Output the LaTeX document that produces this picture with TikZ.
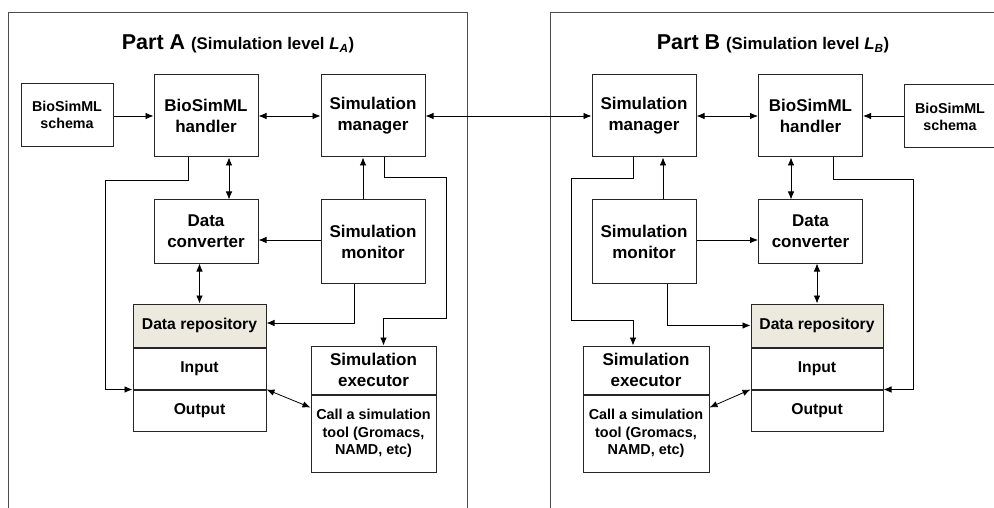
\documentclass[tikz,border=0pt]{standalone}
\usepackage{fontspec}
\setmainfont{Liberation Sans}
\usetikzlibrary{arrows.meta,positioning}
\definecolor{repofill}{HTML}{ECEADF}
\begin{document}
\begin{tikzpicture}[x=1pt,y=-1pt,>={Latex[length=8pt,width=6.5pt]},
  blk/.style={draw=black!85,line width=1pt,inner sep=0pt,align=center,
    minimum width=104,minimum height=82,font=\bfseries\fontsize{17}{21}\selectfont},
  small/.style={blk,minimum width=92,minimum height=63,font=\bfseries\fontsize{14.3}{17}\selectfont},
  repo/.style={blk,minimum height=41,font=\bfseries\fontsize{15.7}{18}\selectfont},
  call/.style={blk,font=\bfseries\fontsize{14.4}{17.5}\selectfont},
  frame/.style={draw=black!70,line width=0.9pt},
  wire/.style={line width=0.8pt}]
\clip (0,0) rectangle (994,508);
\draw[frame] (8,12.5) rectangle (467,530);
\draw[frame] (550,12.5) rectangle (1010,530);
%
% part A
\node (titA) at (238,44) {\bfseries\fontsize{21.5}{24}\selectfont Part A
  \fontsize{16.8}{18}\selectfont(Simulation level \textit{L}\textsubscript{\textit{A}})};
\node[small] (schA) at (67,115) {BioSimML\\schema};
\node[blk] (handA) at (206,116) {BioSimML\\handler};
\node[blk] (manA) at (373,116) {Simulation\\manager};
\node[blk,minimum height=63] (convA) at (206,231.5) {Data\\converter};
\node[blk,minimum height=83] (monA) at (373,241.5) {Simulation\\monitor};
\node[repo,fill=repofill,minimum width=133,minimum height=43] (hdrA) at (199.5,325.5) {Data repository};
\node[repo,minimum width=133,below=0pt of hdrA] (inA) {Input};
\node[repo,minimum width=133,below=0pt of inA] (outA) {Output};
\node[blk,minimum width=125,minimum height=48] (exeA) at (373.5,370) {Simulation\\executor};
\node[call,minimum width=125,minimum height=77,below=0pt of exeA] (bodyA) {Call a simulation\\tool (Gromacs,\\NAMD, etc)};
%
% part B
\node (titB) at (773,44) {\bfseries\fontsize{21.5}{24}\selectfont Part B
  \fontsize{16.8}{18}\selectfont(Simulation level \textit{L}\textsubscript{\textit{B}})};
\node[blk] (manB) at (644,116) {Simulation\\manager};
\node[blk] (handB) at (810.5,116) {BioSimML\\handler};
\node[small] (schB) at (950,116.5) {BioSimML\\schema};
\node[blk,minimum height=83] (monB) at (644,241.5) {Simulation\\monitor};
\node[blk,minimum height=63] (convB) at (810.5,231.5) {Data\\converter};
\node[repo,fill=repofill,minimum width=132,minimum height=43] (hdrB) at (817,325.5) {Data repository};
\node[repo,minimum width=132,below=0pt of hdrB] (inB) {Input};
\node[repo,minimum width=132,below=0pt of inB] (outB) {Output};
\node[blk,minimum width=126,minimum height=48] (exeB) at (646,370) {Simulation\\executor};
\node[call,minimum width=126,minimum height=77,below=0pt of exeB] (bodyB) {Call a simulation\\tool (Gromacs,\\NAMD, etc)};
%
% links in part A
\draw[wire,->] (schA.east |- handA.west) -- (handA.west);
\draw[wire,<->] (handA) -- (manA);
\draw[wire,<->] ([xshift=23pt]handA.south) -- ([xshift=23pt]convA.north);
\draw[wire,->] ([xshift=-10pt]monA.north) -- ([xshift=-10pt]manA.south);
\draw[wire,->] (monA.west |- 0,240) -- (convA.east |- 0,240);
\draw[wire,->] ([xshift=-18pt]handA.south) |- (105,180) |- (inA.south west);
\draw[wire,->] ([xshift=11pt]manA.south) |- (446,177) -- (446,318) -| ([xshift=10pt]exeA.north);
\draw[wire,<->] (hdrA.north |- convA.south) -- (hdrA.north);
\draw[wire,->] ([xshift=-19pt]monA.south) |- ([yshift=2.5pt]hdrA.east);
\draw[wire,<->] (inA.south east) -- ([yshift=-13pt]bodyA.north west);
%
% between the two levels
\draw[wire,<->] (manA) -- (manB);
%
% links in part B
\draw[wire,<->] (manB) -- (handB);
\draw[wire,->] (schB.west |- handB.east) -- (handB.east);
\draw[wire,<->] ([xshift=-19.5pt]handB.south) -- ([xshift=-19.5pt]convB.north);
\draw[wire,->] ([xshift=19pt]monB.north) -- ([xshift=19pt]manB.south);
\draw[wire,->] (monB.east |- 0,240) -- (convB.west |- 0,240);
\draw[wire,->] ([xshift=-11pt]manB.south) |- (571,178) -- (571,320) -| ([xshift=-13pt]exeB.north);
\draw[wire,->] ([xshift=22.5pt]handB.south) |- (913,179) |- (inB.south east);
\draw[wire,<->] (hdrB.north |- convB.south) -- (hdrB.north);
\draw[wire,->] ([xshift=23pt]monB.south) |- (hdrB.west);
\draw[wire,<->] ([yshift=-13pt]bodyB.north east) -- (inB.south west);
\end{tikzpicture}
\end{document}
